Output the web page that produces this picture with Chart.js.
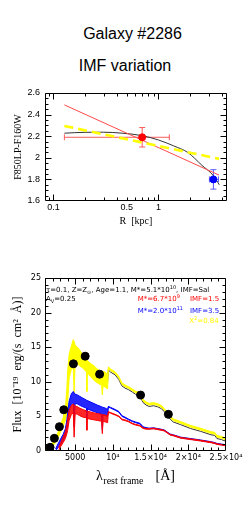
<!DOCTYPE html>
<html><head><meta charset="utf-8">
<script src="https://cdn.jsdelivr.net/npm/chart.js@4.4.1/dist/chart.umd.min.js"></script>
<style>
html,body{margin:0;padding:0;background:#fff;}
body{width:251px;height:506px;position:relative;overflow:hidden;}
.ttl{position:absolute;font-family:"Liberation Sans",Arial,sans-serif;font-size:16px;line-height:16px;color:#000;white-space:nowrap;text-align:center;}
canvas{position:absolute;left:0;}
</style></head><body>
<div class="ttl" style="left:0;width:265px;top:25.5px">Galaxy #2286</div>
<div class="ttl" style="left:0;width:250px;top:57.5px">IMF variation</div>
<canvas id="c1" width="251" height="150" style="top:80px"></canvas>
<canvas id="c2" width="251" height="266" style="top:240px"></canvas>
<script>
// ---------- top panel data ----------
const radiusModel   = [0.127, 0.2, 0.3, 0.45, 0.7, 1.0, 1.4, 1.9, 2.6, 3.3, 3.8];
const colorModelSal = [2.228, 2.236, 2.237, 2.228, 2.205, 2.165, 2.11, 2.05, 1.93, 1.84, 1.75];
const radiusFit      = [0.127, 3.78];
const colorFitRed    = [2.49, 1.84];
const colorFitYellow = [2.295, 1.99];
const obsR     = [0.70, 3.34];
const obsColor = [2.19, 1.80];
const obsRLo   = [0.127, 3.06];
const obsRHi   = [1.27, 3.73];
const obsErr   = [0.09, 0.09];
const obsColors = ['#ff0000', '#0000ff'];
const obsErrColors = ['#ff5a5a', '#5a5aff'];
const topXTicks = [0.1, 0.5, 1];
const topYTicks = [1.6, 1.8, 2, 2.2, 2.4, 2.6];

// ---------- bottom panel data ----------
const lambda = [1100,1500,2000,2400,2800,3000,3400,3700,3900,4000,4200,4500,4750,4860,5000,5300,5600,6000,6500,6560,6600,7000,7500,8000,8500,8600,8700,9000,9300,
  9400,9700,10300,10800,11200,11600,12100,12600,13000,13600,14000,14400,14800,15400,15900,16400,16800,17200,17600,18000,19000,20300,21600,23000,23500,23800,24400,25000];
const fluxYellowHi = [0.1,0.5,1.2,1.9,2.9,3.6,4.8,6.2,9.0,11.5,14.0,15.2,16.1,15.8,15.3,15.0,14.6,13.9,13.3,13.2,13.1,12.7,12.3,11.8,11.5,11.5,11.5,11.4,11.0,
  12.15,11.85,11.45,10.75,9.85,9.55,9.3,8.95,8.65,8.4,7.45,7.1,6.89,6.99,6.85,6.6,6.15,5.65,5.05,4.65,4.25,3.7,3.3,2.8,2.7,2.25,2.1,1.85];
const fluxYellowLo = [0,0.2,0.7,1.2,2.1,2.6,3.6,4.4,5.5,7.0,10.5,11.8,12.0,8.4,12.6,12.6,12.3,12.0,11.4,8.6,11.3,10.8,10.2,9.8,9.5,8.1,9.4,9.2,9.0,
  11.9,11.6,11.2,10.5,9.6,9.3,9.05,8.7,8.4,8.15,7.2,6.85,6.64,6.74,6.6,6.35,5.9,5.4,4.8,4.4,4.0,3.45,3.05,2.55,2.45,2.0,1.85,1.6];
const fluxBlack = [0.05,0.35,0.95,1.55,2.5,3.1,4.2,5.3,7.2,9.2,12.2,13.5,14.0,13.5,13.9,13.8,13.4,12.9,12.3,12.2,12.2,11.7,11.2,10.8,10.5,10.5,10.4,10.3,10.0,
  11.7,11.4,11.0,10.3,9.4,9.1,8.85,8.5,8.2,7.95,7.0,6.65,6.44,6.54,6.4,6.15,5.7,5.2,4.6,4.2,3.8,3.25,2.85,2.35,2.25,1.8,1.65,1.4];
const fluxBlueHi = [null,null,null,0.3,1.2,1.6,2.4,3.2,4.5,5.5,7.2,8.3,8.6,8.4,8.2,8.1,7.9,7.65,7.35,7.3,7.3,7.1,6.85,6.6,6.4,6.35,6.3,6.2,6.0,
  6.45,6.3,6.0,5.7,5.1,4.9,4.6,4.35,4.2,4.0,3.5,3.38,3.3,3.35,3.25,3.15,3.05,2.75,2.45,2.35,2.0,1.8,1.6,1.35,1.22,1.1,1.0,0.9];
const fluxBlueLo = [null,null,null,0,0.6,0.8,1.5,2.2,3.0,3.8,5.8,6.8,7.0,3.5,6.9,6.8,6.6,6.4,6.2,4.5,6.1,5.9,5.7,5.5,5.3,3.0,5.2,5.1,5.0,
  6.35,6.2,5.9,5.6,5.0,4.8,4.5,4.25,4.1,3.9,3.4,3.28,3.2,3.25,3.15,3.05,2.95,2.65,2.35,2.25,1.9,1.7,1.5,1.25,1.12,1.0,0.9,0.8];
const fluxRedHi = [null,null,null,null,0.5,1.0,2.0,2.8,3.8,4.6,5.9,6.6,6.8,6.7,6.5,6.4,6.2,6.0,5.8,5.75,5.75,5.65,5.5,5.4,5.3,5.3,5.25,5.2,5.05,
  5.7,5.55,5.3,5.05,4.6,4.5,4.3,4.0,3.85,3.7,3.35,3.25,3.25,3.3,3.2,3.1,3.0,2.7,2.4,2.3,1.95,1.75,1.55,1.3,1.17,1.05,0.95,0.85];
const fluxRedLo = [null,null,null,null,0,0.5,1.2,1.8,2.5,3.0,4.4,5.3,5.5,2.0,5.4,5.3,5.1,4.9,4.8,3.0,4.7,4.6,4.5,4.4,4.3,2.5,4.3,4.2,4.1,
  5.6,5.45,5.2,4.95,4.5,4.4,4.2,3.9,3.75,3.6,3.25,3.15,3.15,3.2,3.1,3.0,2.9,2.6,2.3,2.2,1.85,1.65,1.45,1.2,1.07,0.95,0.85,0.75];
const photLambda = [1670, 2240, 2910, 3490, 4770, 6330, 8240, 13670, 17360];
const photFlux   = [0.53, 1.83, 3.51, 5.96, 12.6, 13.7, 11.1, 8.08, 5.3];
const botXTicks = [5000, 10000, 15000, 20000, 25000];
const botXTickLabels = ['5000', '10\u2074', '1.5\u00d710\u2074', '2\u00d710\u2074', '2.5\u00d710\u2074'];
const botYTicks = [0, 5, 10, 15, 20, 25];

// ---------- helpers ----------
const xy = (xs, ys) => xs.map((x, i) => ({x: x, y: ys[i]}));
const range = (a, b, s) => { const r = []; for (let v = a; v <= b + 1e-9; v += s) r.push(+v.toFixed(4)); return r; };

function framePlugin(cfg) {
  return {
    id: 'frame',
    afterDraw(chart) {
      const {ctx, chartArea: a} = chart;
      const xs = chart.scales.x, ys = chart.scales.y;
      const L = Math.round(a.left) + 0.5, R = Math.round(a.right) - 0.5;
      const T = Math.round(a.top) + 0.5, B = Math.round(a.bottom) - 0.5;
      ctx.save();
      ctx.strokeStyle = '#000'; ctx.lineWidth = 1;
      ctx.beginPath();
      ctx.rect(L, T, R - L, B - T);
      const seg = (x1, y1, x2, y2) => { ctx.moveTo(x1, y1); ctx.lineTo(x2, y2); };
      const doX = (vals, len) => vals.forEach(v => {
        const p = Math.round(xs.getPixelForValue(v)) + 0.5;
        if (p < L || p > R) return;
        seg(p, B, p, B - len); seg(p, T, p, T + len);
      });
      const doY = (vals, len) => vals.forEach(v => {
        const p = Math.round(ys.getPixelForValue(v)) + 0.5;
        if (p < T - 0.6 || p > B + 0.6) return;
        seg(L, p, L + len, p); seg(R, p, R - len, p);
      });
      doX(cfg.xMajor, cfg.maj); doX(cfg.xMinor, cfg.min);
      doY(cfg.yMajor, cfg.maj); doY(cfg.yMinor, cfg.min);
      ctx.stroke();
      ctx.restore();
    }
  };
}

// ---------- top chart ----------
const topXMinor = [0.09, 0.2, 0.3, 0.4, 0.5, 0.6, 0.7, 0.8, 0.9, 2, 3, 4];
const topYMinor = range(1.6, 2.6, 0.05).filter(v => Math.abs(v * 5 - Math.round(v * 5)) > 1e-6);

const errPlugin = {
  id: 'err',
  beforeDatasetsDraw(chart) {
    const {ctx} = chart; const xs = chart.scales.x, ys = chart.scales.y;
    ctx.save(); ctx.lineWidth = 1;
    obsR.forEach((r, i) => {
      ctx.strokeStyle = obsErrColors[i];
      const px = xs.getPixelForValue(r), py = ys.getPixelForValue(obsColor[i]);
      const x1 = xs.getPixelForValue(obsRLo[i]), x2 = xs.getPixelForValue(obsRHi[i]);
      const y1 = ys.getPixelForValue(obsColor[i] - obsErr[i]), y2 = ys.getPixelForValue(obsColor[i] + obsErr[i]);
      ctx.beginPath();
      ctx.moveTo(x1, py); ctx.lineTo(x2, py);
      ctx.moveTo(x1, py - 3); ctx.lineTo(x1, py + 3);
      ctx.moveTo(x2, py - 3); ctx.lineTo(x2, py + 3);
      ctx.moveTo(px, y1); ctx.lineTo(px, y2);
      ctx.moveTo(px - 3, y1); ctx.lineTo(px + 3, y1);
      ctx.moveTo(px - 3, y2); ctx.lineTo(px + 3, y2);
      ctx.stroke();
    });
    ctx.restore();
  }
};

new Chart(document.getElementById('c1'), {
  type: 'line',
  data: {
    datasets: [
      {type: 'scatter', data: xy(obsR, obsColor), pointRadius: 3.5, pointBackgroundColor: obsColors, pointBorderColor: obsColors, order: 0},
      {data: xy(radiusFit, colorFitYellow), borderColor: '#ffff00', borderWidth: 2.6, borderDash: [9, 5], pointRadius: 0, order: 1},
      {data: xy(radiusFit, colorFitRed), borderColor: '#ff4848', borderWidth: 1, pointRadius: 0, order: 2},
      {data: xy(radiusModel, colorModelSal), borderColor: '#333', borderWidth: 1, pointRadius: 0, cubicInterpolationMode: 'monotone', order: 3}
    ]
  },
  options: {
    animation: false, responsive: false, devicePixelRatio: 1,
    events: [],
    layout: {padding: {top: 13, right: 24, left: 0, bottom: 0}},
    plugins: {legend: {display: false}, tooltip: {enabled: false}},
    scales: {
      x: {
        type: 'logarithmic', min: 0.083, max: 4.5,
        grid: {display: false, drawTicks: false}, border: {display: false},
        afterBuildTicks: s => { s.ticks = topXTicks.map(v => ({value: v})); },
        afterFit: s => { s.height = 29; },
        ticks: {autoSkip: false, maxRotation: 0, padding: 1, color: '#000',
          font: {family: 'Liberation Sans', size: 9}, callback: v => String(v)},
        title: {display: true, text: 'R  [kpc]', color: '#000', padding: {top: 0, bottom: 3},
          font: {family: 'Liberation Serif', size: 10}}
      },
      y: {
        min: 1.6, max: 2.6,
        grid: {display: false, drawTicks: false}, border: {display: false},
        afterBuildTicks: s => { s.ticks = topYTicks.map(v => ({value: v})); },
        afterFit: s => { s.width = 45; },
        ticks: {padding: 5, color: '#000', font: {family: 'Liberation Sans', size: 9}, callback: v => String(v)},
        title: {display: true, text: 'F850LP-F160W', color: '#000', padding: {top: 12, bottom: 0},
          font: {family: 'Liberation Serif', size: 10}}
      }
    }
  },
  plugins: [errPlugin, framePlugin({xMajor: [0.1, 1], xMinor: topXMinor, yMajor: topYTicks, yMinor: topYMinor, maj: 6, min: 3})]
});

// ---------- bottom chart ----------
function richText(ctx, parts, x, y, size, color) {
  let cx = x;
  parts.forEach(([t, st]) => {
    const fs = st ? size * 0.72 : size;
    ctx.font = fs + 'px "DejaVu Sans"';
    ctx.fillStyle = color;
    const dy = st === 'sup' ? -size * 0.38 : st === 'sub' ? size * 0.3 : 0;
    ctx.fillText(t, cx, y + dy);
    cx += ctx.measureText(t).width;
  });
}

const legendPlugin = {
  id: 'legendText',
  afterDraw(chart) {
    const {ctx, chartArea: a} = chart;
    ctx.save();
    ctx.textBaseline = 'middle'; ctx.textAlign = 'left';
    const s = 7;
    richText(ctx, [['\u03c4=0.1, Z=Z'], ['\u2299', 'sub'], [', Age=1.1, M*=5.1*10'], ['10', 'sup'], [', IMF=Sal']], a.left + 1, a.top + 12.3, s, '#000');
    richText(ctx, [['A'], ['V', 'sub'], ['=0.25']], a.left + 1, a.top + 21.6, s, '#000');
    richText(ctx, [['M*=6.7*10'], ['9', 'sup']], a.left + 92.7, a.top + 21.6, s, '#ff0000');
    richText(ctx, [['IMF=1.5']], a.left + 145, a.top + 21.6, s, '#ff0000');
    richText(ctx, [['M*=2.0*10'], ['11', 'sup']], a.left + 92.7, a.top + 33, s, '#0000ff');
    richText(ctx, [['IMF=3.5']], a.left + 145, a.top + 33, s, '#0000ff');
    richText(ctx, [['X'], ['2', 'sup'], ['=0.84']], a.left + 144.3, a.top + 43.3, s, '#ffff00');
    // x-axis title
    ctx.textBaseline = 'alphabetic';
    ctx.fillStyle = '#000';
    const f1 = '14px "Liberation Serif"', f2 = '10px "Liberation Serif"';
    ctx.font = f1; const w1 = ctx.measureText('\u03bb').width, w3 = ctx.measureText('[\u00c5]').width;
    ctx.font = f2; const w2 = ctx.measureText('rest frame').width;
    const gap = 12, tot = w1 + 0.5 + w2 + gap + w3;
    const x0 = (a.left + a.right) / 2 - tot / 2, yb = a.bottom + 29;
    ctx.font = f1; ctx.fillText('\u03bb', x0, yb);
    ctx.font = f2; ctx.fillText('rest frame', x0 + w1 + 0.5, yb + 3.5);
    ctx.font = f1; ctx.fillText('[\u00c5]', x0 + w1 + 0.5 + w2 + gap, yb);
    ctx.restore();
  }
};

const band = (hi, lo, color, fillColor, order) => [
  {data: xy(lambda, hi), borderColor: color, backgroundColor: fillColor, borderWidth: 1, pointRadius: 0, fill: '+1', order: order, spanGaps: false},
  {data: xy(lambda, lo), borderColor: color, borderWidth: 1, pointRadius: 0, fill: false, order: order, spanGaps: false}
];

new Chart(document.getElementById('c2'), {
  type: 'line',
  data: {
    datasets: [
      {type: 'scatter', data: xy(photLambda, photFlux), pointRadius: 4, pointBackgroundColor: '#000', pointBorderColor: '#000', order: 0},
      ...band(fluxRedHi, fluxRedLo, '#ff0000', 'rgba(255,0,0,0.85)', 1),
      ...band(fluxBlueHi, fluxBlueLo, '#0000ff', 'rgba(0,0,255,0.85)', 2),
      ...band(fluxYellowHi, fluxYellowLo, '#ffff00', '#ffff00', 3),
      {data: xy(lambda, fluxBlack), borderColor: '#333', borderWidth: 1, pointRadius: 0, order: 4}
    ]
  },
  options: {
    animation: false, responsive: false, devicePixelRatio: 1,
    events: [],
    layout: {padding: {top: 38, right: 25, left: 0, bottom: 0}},
    plugins: {legend: {display: false}, tooltip: {enabled: false}},
    scales: {
      x: {
        type: 'linear', min: 1000, max: 25000,
        grid: {display: false, drawTicks: false}, border: {display: false},
        afterBuildTicks: s => { s.ticks = botXTicks.map(v => ({value: v})); },
        afterFit: s => { s.height = 55; },
        ticks: {autoSkip: false, maxRotation: 0, padding: 2, color: '#000',
          font: {family: 'DejaVu Sans', size: 8}, callback: v => botXTickLabels[botXTicks.indexOf(v)]}
      },
      y: {
        min: 0, max: 25,
        grid: {display: false, drawTicks: false}, border: {display: false},
        afterBuildTicks: s => { s.ticks = botYTicks.map(v => ({value: v})); },
        afterFit: s => { s.width = 45; },
        ticks: {padding: 4, color: '#000', font: {family: 'DejaVu Sans', size: 8}, callback: v => String(v)},
        title: {display: true, text: 'Flux  [10\u207b\u00b9\u2079  erg/(s  cm\u00b2  \u00c5)]', color: '#000',
          padding: {top: 10.5, bottom: 0}, font: {family: 'Liberation Serif', size: 12}}
      }
    }
  },
  plugins: [legendPlugin, framePlugin({
    xMajor: botXTicks, xMinor: range(1000, 25000, 1000).filter(v => v % 5000 !== 0),
    yMajor: botYTicks, yMinor: range(0, 25, 1).filter(v => v % 5 !== 0), maj: 6, min: 3})]
});
</script>
</body></html>
